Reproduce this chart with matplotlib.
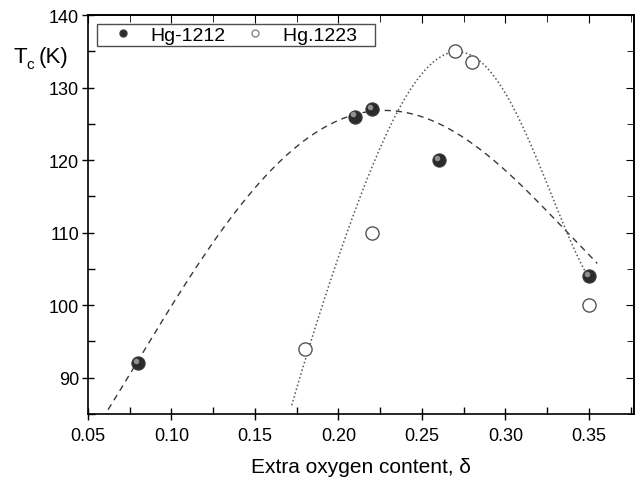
import numpy as np
import matplotlib
matplotlib.use("Agg")
import matplotlib.pyplot as plt
from matplotlib.ticker import MultipleLocator, FormatStrFormatter
from matplotlib.lines import Line2D

plt.rcParams['font.family'] = ['Liberation Sans', 'DejaVu Sans']

# data
x1212 = [0.08, 0.21, 0.22, 0.26, 0.35]
y1212 = [92, 126, 127, 120, 104]
x1223 = [0.18, 0.22, 0.27, 0.28, 0.35]
y1223 = [94, 110, 135, 133.5, 100]

# guide curves
dash_x = [0.064, 0.105, 0.135, 0.163, 0.173, 0.201, 0.233, 0.257, 0.291, 0.313, 0.331, 0.355]
dash_y = [86.4, 101.6, 111.7, 119.4, 121.9, 125.6, 126.7, 125.1, 120.1, 116.4, 111.3, 105.7]
dot_x = [0.173, 0.181, 0.199, 0.209, 0.219, 0.235, 0.244, 0.255, 0.262, 0.27, 0.28, 0.291,
         0.307, 0.317, 0.329, 0.339, 0.349]
dot_y = [86.4, 94.2, 105.7, 112.2, 118.2, 126.5, 130.2, 133.4, 134.6, 135.2, 133.8, 132.1,
         126.1, 121.4, 114.1, 109.4, 103.9]

xticks = [0.05, 0.10, 0.15, 0.20, 0.25, 0.30, 0.35]
yticks = [90, 100, 110, 120, 130, 140]
labels = ['Hg-1212', 'Hg.1223']

fig = plt.figure(figsize=(6.35, 4.85), dpi=100)
ax = fig.add_axes([0.1386, 0.1443, 0.8598, 0.8227])

pd_ = np.polyfit(dash_x, dash_y, 4)
xx = np.linspace(dash_x[0] - 0.002, dash_x[-1], 300)
ax.plot(xx, np.polyval(pd_, xx), ls=(0, (4.5, 3.5)), color='#3a3a3a', lw=1.0)
pt_ = np.polyfit(dot_x, dot_y, 5)
xx2 = np.linspace(dot_x[0] - 0.001, dot_x[-1] + 0.001, 300)
ax.plot(xx2, np.polyval(pt_, xx2), ls=(0, (1, 1.6)), color='#555555', lw=1.1)

ax.plot(x1212, y1212, 'o', ms=9.5, mfc='#2b2b2b', mec='#3a3a3a', mew=0.8, zorder=3)
ax.plot(x1212, y1212, 'o', ms=4, mfc='#8f8f8f', mec='none', zorder=4,
        transform=ax.transData + matplotlib.transforms.ScaledTranslation(-1.5/72, 1.5/72, fig.dpi_scale_trans))
ax.plot(x1223, y1223, 'o', ms=9.5, mfc='white', mec='#555555', mew=1.0, zorder=3)

ax.set_xlim(0.05, 0.377)
ax.set_ylim(85, 140)
ax.set_xticks(xticks)
ax.set_yticks(yticks)
ax.xaxis.set_major_formatter(FormatStrFormatter('%.2f'))
ax.xaxis.set_minor_locator(MultipleLocator(0.025))
ax.yaxis.set_minor_locator(MultipleLocator(5))
ax.tick_params(which='major', direction='inout', length=9, width=1.0, labelsize=13, pad=2)
ax.tick_params(axis='x', which='major', pad=5)
ax.tick_params(which='minor', direction='in', length=5, width=1.0)
for s in ax.spines.values():
    s.set_linewidth(1.2)

top = ax.secondary_xaxis('top')
top.set_xticks(xticks)
top.xaxis.set_minor_locator(MultipleLocator(0.025))
top.tick_params(which='major', direction='in', length=6, labeltop=False)
top.tick_params(which='minor', direction='in', length=5)
top.spines['top'].set_linewidth(1.2)
right = ax.secondary_yaxis('right')
right.set_yticks(yticks)
right.yaxis.set_minor_locator(MultipleLocator(5))
right.tick_params(which='major', direction='in', length=6, labelright=False)
right.tick_params(which='minor', direction='in', length=5)
right.spines['right'].set_linewidth(1.2)

ax.set_xlabel('Extra oxygen content, δ', fontsize=15, labelpad=9)
fig.text(0.0205, 0.870, 'T', fontsize=16, ha='left', va='baseline')
fig.text(0.042, 0.857, 'c', fontsize=11, ha='left', va='baseline')
fig.text(0.061, 0.870, '(K)', fontsize=16, ha='left', va='baseline')

# legend
h1 = Line2D([], [], ls='none', marker='o', ms=5, mfc='#2b2b2b', mec='#3a3a3a')
h2 = Line2D([], [], ls='none', marker='o', ms=5, mfc='white', mec='#888888')
leg = ax.legend([h1, h2], [labels[0], labels[1] + '   '], ncol=2, loc='upper left',
                bbox_to_anchor=(0.016, 0.977), fontsize=14, frameon=True, fancybox=False,
                edgecolor='#222222', borderpad=0.1, handletextpad=0.15, columnspacing=0.3,
                handlelength=2.5, borderaxespad=0)
leg.get_frame().set_linewidth(1.0)

plt.savefig('out.png')
